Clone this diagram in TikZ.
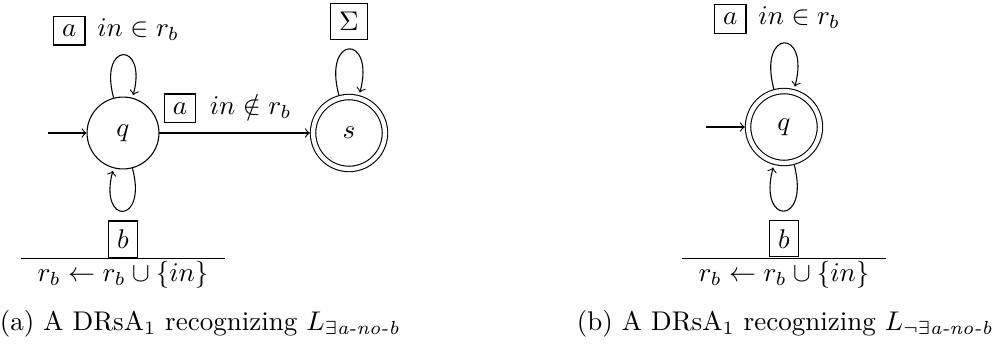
\documentclass[tikz,border=0pt]{standalone}
\usepackage{amsmath}
\begin{document}
\begin{tikzpicture}[x=0.37pt,y=-0.37pt,
  state/.style={circle,draw,minimum size=26.6pt,inner sep=0pt},
  accept/.style={state,double,double distance=1.6pt,outer sep=1.2pt},
  looplbl/.style={above,xshift=-2.6pt},
  reset/.style={below,inner sep=3.33pt}]
\useasboundingbox (0,0) rectangle (1000,347);
% (a)
\node[state] (q) at (123,133) {$q$};
\node[accept] (s) at (349,133) {$s$};
\coordinate (qin) at (48,133);
\draw[->] (qin) -- (q);
\draw[->] (q) edge[loop above] node[looplbl] (la1) {\fbox{$a$}\hspace{4.4pt}$in\in r_b$} (q);
\draw[->] (q) edge[loop below] node[reset] (lb1) {\begin{tabular}{c}\fbox{$b$}\\\hline $r_b\gets r_b\cup\{in\}$\end{tabular}} (q);
\draw[->] (q) -- node[above,xshift=-2.6pt] (la2) {\fbox{$a$}\hspace{5pt}$in\notin r_b$} (s);
\draw[->] (s) edge[loop above] node[above] (ls) {\fbox{$\Sigma$}} (s);
\node[anchor=base] (capa) at (200,330) {(a) A DRsA$_1$ recognizing $L_{\exists\textit{a-no-b}}$};
% (b)
\node[accept] (p) at (784,127) {$q$};
\coordinate (pin) at (706,127);
\draw[->] (pin) -- (p);
\draw[->] (p) edge[loop above] node[looplbl] (la3) {\fbox{$a$}\hspace{4.4pt}$in\in r_b$} (p);
\draw[->] (p) edge[loop below] node[reset] (lb2) {\begin{tabular}{c}\fbox{$b$}\\\hline $r_b\gets r_b\cup\{in\}$\end{tabular}} (p);
\node[anchor=base] (capb) at (785,330) {(b) A DRsA$_1$ recognizing $L_{\neg\exists\textit{a-no-b}}$};
\end{tikzpicture}
\end{document}
